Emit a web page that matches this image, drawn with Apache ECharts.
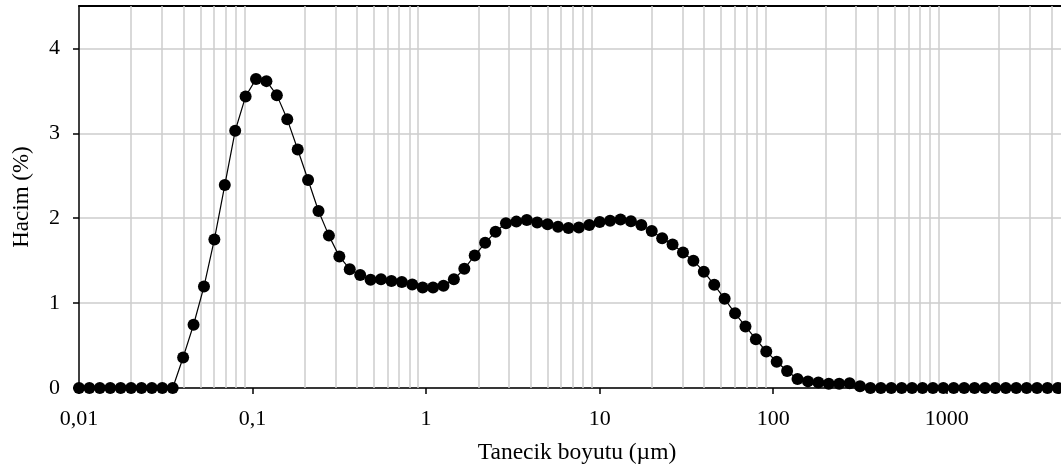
<!DOCTYPE html>
<html>
<head>
<meta charset="utf-8">
<script src="https://cdn.jsdelivr.net/npm/echarts@6/dist/echarts.min.js"></script>
<style>
  html, body { margin: 0; padding: 0; background: #fff; }
  #chart { width: 1061px; height: 470px; }
</style>
</head>
<body>
<div id="chart"></div>
<script>
// particle size classes (µm)
var sizes = [
  0.0100, 0.01148, 0.01318, 0.01514, 0.01738, 0.01995, 0.02291, 0.02630, 0.03020, 0.03467,
  0.03981, 0.04571, 0.05248, 0.06026, 0.06918, 0.07943, 0.09120, 0.1047, 0.1202, 0.1380,
  0.1585, 0.1820, 0.2089, 0.2399, 0.2754, 0.3162, 0.3631, 0.4169, 0.4786, 0.5495,
  0.6310, 0.7244, 0.8318, 0.9550, 1.096, 1.259, 1.445, 1.660, 1.905, 2.188,
  2.512, 2.884, 3.311, 3.802, 4.365, 5.012, 5.754, 6.607, 7.586, 8.710,
  10.00, 11.48, 13.18, 15.14, 17.38, 19.95, 22.91, 26.30, 30.20, 34.67,
  39.81, 45.71, 52.48, 60.26, 69.18, 79.43, 91.20, 104.7, 120.2, 138.0,
  158.5, 182.0, 208.9, 239.9, 275.4, 316.2, 363.1, 416.9, 478.6, 549.5,
  631.0, 724.4, 831.8, 955.0, 1096, 1259, 1445, 1660, 1905, 2188,
  2512, 2884, 3311, 3802, 4365
];
// volume (%)
var volume = [
  0, 0, 0, 0, 0, 0, 0, 0, 0, 0,
  0.36, 0.745, 1.195, 1.75, 2.39, 3.03, 3.435, 3.64, 3.615, 3.45,
  3.165, 2.81, 2.45, 2.085, 1.795, 1.55, 1.40, 1.33, 1.275, 1.28,
  1.26, 1.25, 1.22, 1.185, 1.185, 1.205, 1.28, 1.405, 1.56, 1.71,
  1.84, 1.94, 1.96, 1.98, 1.95, 1.93, 1.90, 1.885, 1.89, 1.92,
  1.955, 1.97, 1.985, 1.965, 1.92, 1.85, 1.765, 1.69, 1.595, 1.50,
  1.37, 1.215, 1.05, 0.88, 0.725, 0.575, 0.43, 0.31, 0.20, 0.105,
  0.078, 0.065, 0.05, 0.05, 0.055, 0.02, 0, 0, 0, 0,
  0, 0, 0, 0, 0, 0, 0, 0, 0, 0,
  0, 0, 0, 0, 0
];
var xTickValues = [0.01, 0.1, 1, 10, 100, 1000];
var xTickLabels = ['0,01', '0,1', '1', '10', '100', '1000'];
var xMinorGrid = [
  0.02, 0.03, 0.04, 0.05, 0.06, 0.07, 0.08, 0.09,
  0.2, 0.3, 0.4, 0.5, 0.6, 0.7, 0.8, 0.9,
  2, 3, 4, 5, 6, 7, 8, 9,
  20, 30, 40, 50, 60, 70, 80, 90,
  200, 300, 400, 500, 600, 700, 800, 900,
  2000, 3000, 4000
];
var yTickValues = [0, 1, 2, 3, 4];
var xName = 'Tanecik boyutu (µm)';
var yName = 'Hacim (%)';

var FONT = 'Liberation Serif';
var GRID = '#cccccc';

var chart = echarts.init(document.getElementById('chart'), null, { renderer: 'canvas' });
var pts = sizes.map(function (s, i) { return [s, volume[i]]; });

function xLabel(v) {
  for (var i = 0; i < xTickValues.length; i++) {
    if (Math.abs(v - xTickValues[i]) / xTickValues[i] < 1e-6) return xTickLabels[i];
  }
  return '';
}

chart.setOption({
  animation: false,
  backgroundColor: '#ffffff',
  grid: { left: 79, right: 0, top: 6, bottom: 81, containLabel: false },
  xAxis: [{
    type: 'log',
    logBase: 10,
    min: 0.01,
    max: 4550,
    name: xName,
    nameLocation: 'middle',
    nameGap: 53,
    nameTextStyle: { fontFamily: FONT, fontSize: 23.5, color: '#000', padding: [0, 0, 0, 14] },
    axisLine: { show: true, onZero: false, lineStyle: { color: '#000', width: 1.5 } },
    axisTick: { show: true, inside: false, length: 6, customValues: xTickValues, lineStyle: { color: '#000', width: 1.5 } },
    axisLabel: { show: true, margin: 20, customValues: xTickValues, formatter: xLabel, fontFamily: FONT, fontSize: 22, color: '#000' },
    splitLine: { show: false },
    minorTick: { show: false },
    minorSplitLine: { show: false }
  }, {
    type: 'log',
    logBase: 10,
    min: 0.01,
    max: 4550,
    position: 'top',
    axisLine: { show: true, onZero: false, lineStyle: { color: '#000', width: 2 } },
    axisTick: { show: false },
    axisLabel: { show: false },
    splitLine: { show: false }
  }],
  yAxis: {
    type: 'value',
    min: 0,
    max: 4.5,
    interval: 1,
    name: yName,
    nameLocation: 'middle',
    nameGap: 46,
    nameTextStyle: { fontFamily: FONT, fontSize: 23, color: '#000' },
    axisLine: { show: true, onZero: false, lineStyle: { color: '#000', width: 1.5 } },
    axisTick: { show: true, inside: false, length: 6, customValues: yTickValues, lineStyle: { color: '#000', width: 1.5 } },
    axisLabel: { show: true, margin: 19, customValues: yTickValues, fontFamily: FONT, fontSize: 22, color: '#000',
      formatter: function (v) { return (Math.abs(v - Math.round(v)) < 1e-9) ? String(Math.round(v)) : ''; } },
    splitLine: { show: true, lineStyle: { color: GRID, width: 1.5 } }
  },
  series: [{
    name: 'grid',
    type: 'line',
    xAxisIndex: 0,
    data: [],
    silent: true,
    z: 1,
    markLine: {
      z: 1,
      silent: true,
      animation: false,
      symbol: ['none', 'none'],
      label: { show: false },
      emphasis: { disabled: true },
      lineStyle: { color: GRID, width: 1.5, type: 'solid' },
      data: xMinorGrid.map(function (v) { return { xAxis: v }; })
    }
  }, {
    name: 'Hacim',
    type: 'line',
    xAxisIndex: 0,
    data: pts,
    z: 3,
    clip: false,
    symbol: 'circle',
    symbolSize: 12,
    showAllSymbol: true,
    itemStyle: { color: '#000' },
    lineStyle: { color: '#000', width: 1.2 }
  }]
});
</script>
</body>
</html>
